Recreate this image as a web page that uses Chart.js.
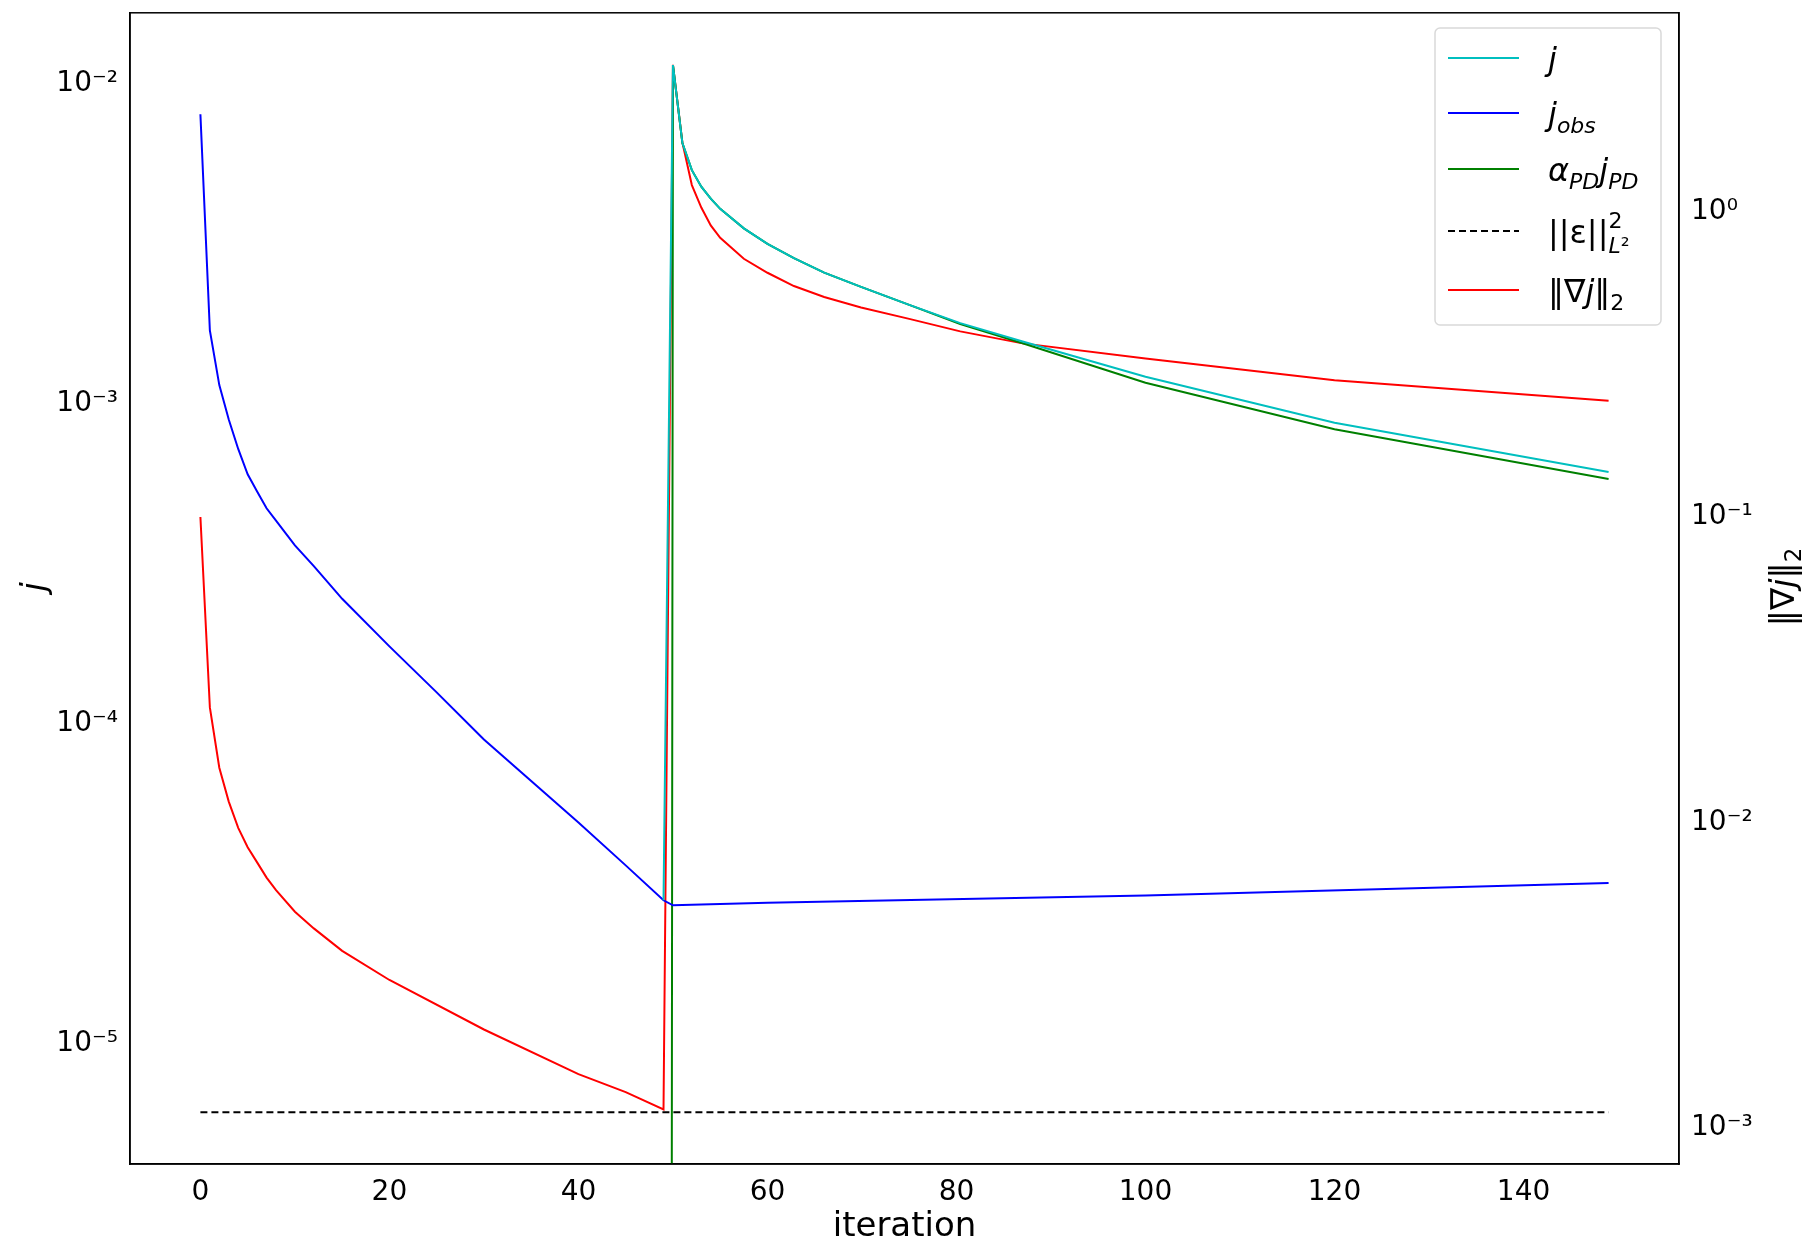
<!DOCTYPE html>
<html><head><meta charset="utf-8">
<script src="https://cdn.jsdelivr.net/npm/chart.js@4/dist/chart.umd.min.js"></script>
<style>html,body{margin:0;padding:0;background:#fff;overflow:hidden}canvas{display:block;margin-top:-10px}</style>
</head><body>
<canvas id="c" width="1807" height="1262" style="width:1807px;height:1262px"></canvas>
<script>
const jobsX = [0,1,2,3,4,5,6,7,8,10,12,15,20,25,30,35,40,45,49,50,60,100,149];
const jobsY = [8e-3,1.69e-3,1.14e-3,8.9e-4,7.2e-4,6e-4,5.3e-4,4.7e-4,4.3e-4,3.6e-4,3.1e-4,2.45e-4,1.74e-4,1.25e-4,8.9e-5,6.6e-5,4.9e-5,3.6e-5,2.8e-5,2.7e-5,2.75e-5,2.9e-5,3.17e-5];
const jX = [49,50,51,52,53,54,55,57.5,60,62.8,66,69.9,75,80.4,87,100,120,149];
const jY = [2.8e-5,1.14e-2,6.5e-3,5.35e-3,4.75e-3,4.36e-3,4.05e-3,3.52e-3,3.15e-3,2.84e-3,2.56e-3,2.31e-3,2.03e-3,1.78e-3,1.56e-3,1.21e-3,8.7e-4,6.1e-4];
const pdX = [49,50,51,52,53,54,55,57.5,60,62.8,66,69.9,75,80.4,87,100,120,149];
const pdY = [1e-30,1.14e-2,6.5e-3,5.35e-3,4.75e-3,4.36e-3,4.05e-3,3.52e-3,3.15e-3,2.84e-3,2.56e-3,2.31e-3,2.03e-3,1.77e-3,1.54e-3,1.16e-3,8.3e-4,5.8e-4];
const epsX = [0,149];
const epsY = [6.1e-6,6.1e-6];
const gradX = [0,1,2,3,4,5,6,7,8,10,12,15,20,30,40,45,49,50,51,52,53,54,55,57.5,60,62.8,66,69.9,75,80.4,87,100,120,149];
const gradY = [0.1,0.0238,0.0151,0.0117,0.0096,0.0083,0.0074,0.0066,0.0060,0.0051,0.0045,0.0038,0.00305,0.0021,0.0015,0.00131,0.00115,3.02,1.68,1.22,1.03,0.90,0.82,0.70,0.63,0.57,0.525,0.485,0.445,0.405,0.37,0.33,0.28,0.24];
const xTicks = [0,20,40,60,80,100,120,140];
const leftDecades = [-5,-4,-3,-2];
const rightDecades = [-3,-2,-1,0];

const OY = 10;
const pts = (xs, ys) => xs.map((x,i)=>({x, y: ys[i]}));
const sup = {'-':'⁻','0':'⁰','1':'¹','2':'²','3':'³','4':'⁴','5':'⁵'};
const decLabel = e => '10' + String(e).split('').map(ch=>sup[ch]).join('');

function logTicks(decs, minor, min, max){
  const t=[];
  const lo=Math.floor(Math.log10(min)), hi=Math.ceil(Math.log10(max));
  for(let e=lo;e<=hi;e++){
    for(let m=1;m<10;m++){
      const v=m*Math.pow(10,e);
      if(v<min||v>max) continue;
      if(m===1 && decs.includes(e)) t.push({value:v, major:true, label:decLabel(e)});
      else if(minor) t.push({value:v, label:''});
    }
  }
  return t;
}

const ds = (label, xs, ys, color, axis, extra={}) => Object.assign({
  label, data: pts(xs,ys), borderColor: color, backgroundColor: color,
  borderWidth: 2, pointRadius: 0, tension:0, yAxisID: axis, fill:false
}, extra);

const legendItems = [
  {color:'#00bfbf', dash:[], parts:[['j','i',1]]},
  {color:'#0000ff', dash:[], parts:[['j','i',1],['obs','i',0.7,'sub']]},
  {color:'#008000', dash:[], parts:[['α','i',1],['PD','i',0.7,'sub'],['j','i',1],['PD','i',0.7,'sub']]},
  {color:'#000000', dash:[7,4], parts:[['||ε||','n',1],['2','n',0.7,'sup'],['L','i',0.7,'sub2'],['²','n',0.7,'sub2']]},
  {color:'#ff0000', dash:[], parts:[['‖∇','n',1],['j','i',1],['‖','n',1],['2','n',0.7,'sub']]},
];

const legendPlugin = {
  id:'mlegend',
  afterDraw(chart){
    const c = chart.ctx;
    c.save();
    c.translate(0,OY);
    const bx=1435, by=28, bw=226, bh=297;
    c.fillStyle='rgba(255,255,255,0.8)';
    c.strokeStyle='#d9d9d9'; c.lineWidth=1.5;
    c.beginPath(); c.roundRect(bx,by,bw,bh,5); c.fill(); c.stroke();
    const ys=[58,113,169,231,290];
    legendItems.forEach((it,k)=>{
      const y=ys[k];
      c.strokeStyle=it.color; c.lineWidth=2; c.setLineDash(it.dash);
      c.beginPath(); c.moveTo(1448,y); c.lineTo(1519,y); c.stroke(); c.setLineDash([]);
      let x=1548;
      c.fillStyle='#000'; c.textBaseline='alphabetic';
      it.parts.forEach(([t,st,sc,pos])=>{
        const fs=Math.round(32*sc);
        c.font=(st==='i'?'italic ':'')+fs+'px "DejaVu Sans"';
        let yy=y+12;
        if(pos==='sub') yy+=8;
        if(pos==='sup') yy-=15;
        if(pos==='sub2') yy+=10;
        c.fillText(t,x,yy);
        if(pos!=='sup') x+=c.measureText(t).width;
      });
    });
    c.fillStyle='#000';
    c.save(); c.translate(45,587); c.rotate(-Math.PI/2);
    c.font='italic 33px "DejaVu Sans"'; c.textAlign='center'; c.fillText('j',0,0); c.restore();
    c.save(); c.translate(1794,587); c.rotate(-Math.PI/2);
    const p1='‖∇', p2='j', p3='‖';
    c.font='33px "DejaVu Sans"'; const w1=c.measureText(p1).width, w3=c.measureText(p3).width;
    c.font='italic 33px "DejaVu Sans"'; const w2=c.measureText(p2).width;
    c.font='23px "DejaVu Sans"'; const w4=c.measureText('2').width;
    let x0=-(w1+w2+w3+w4)/2; c.textAlign='left';
    c.font='33px "DejaVu Sans"'; c.fillText(p1,x0,0); x0+=w1;
    c.font='italic 33px "DejaVu Sans"'; c.fillText(p2,x0,0); x0+=w2;
    c.font='33px "DejaVu Sans"'; c.fillText(p3,x0,0); x0+=w3;
    c.font='23px "DejaVu Sans"'; c.fillText('2',x0,7);
    c.restore();
    c.restore();
  }
};

const tickFont = {size:28, family:'DejaVu Sans'};
const chart = new Chart(document.getElementById('c'), {
  type:'line',
  data:{datasets:[
    ds('j', jX, jY, '#00bfbf', 'yL'),
    ds('jobs', jobsX, jobsY, '#0000ff', 'yL'),
    ds('aPD jPD', pdX, pdY, '#008000', 'yL'),
    ds('eps', epsX, epsY, '#000000', 'yL', {borderDash:[7,4]}),
    ds('grad', gradX, gradY, '#ff0000', 'yR'),
  ]},
  options:{
    responsive:false, animation:false, devicePixelRatio:1,
    layout:{padding:{top:0,right:0,left:0,bottom:0}},
    plugins:{legend:{display:false}, tooltip:{enabled:false}},
    scales:{
      x:{type:'linear', min:-7.45, max:156.45,
        afterBuildTicks:s=>{s.ticks=xTicks.map(v=>({value:v}));},
        afterFit:s=>{s.height=88;},
        grid:{display:false, drawTicks:true, tickLength:8, tickColor:'#000'},
        border:{color:'#000', width:1.5},
        ticks:{color:'#000', font:tickFont, padding:4},
        title:{display:true, text:'iteration', color:'#000', font:{size:34, family:'DejaVu Sans'}, padding:{top:0}}
      },
      yL:{type:'logarithmic', position:'left', min:4.2e-6, max:1.66e-2,
        afterBuildTicks:s=>{s.ticks=logTicks(leftDecades,true,s.min,s.max);},
        afterFit:s=>{s.width=130;},
        grid:{display:false, drawTicks:true, tickLength:6, tickColor:'#000'},
        border:{color:'#000', width:1.5},
        ticks:{color:'#000', font:tickFont, autoSkip:false, callback:(v,i,t)=>t[i].label, padding:6}
      },
      yR:{type:'logarithmic', position:'right', min:7.62e-4, max:4.47,
        afterBuildTicks:s=>{s.ticks=logTicks(rightDecades,true,s.min,s.max);},
        afterFit:s=>{s.width=128;},
        grid:{display:false, drawTicks:true, tickLength:6, tickColor:'#000'},
        border:{color:'#000', width:1.5},
        ticks:{color:'#000', font:tickFont, autoSkip:false, callback:(v,i,t)=>t[i].label, padding:6}
      }
    }
  },
  plugins:[legendPlugin, {id:'frame', afterDraw(ch){const a=ch.chartArea,c=ch.ctx;c.save();c.strokeStyle='#000';c.lineWidth=1.5;c.strokeRect(a.left,a.top,a.right-a.left,a.bottom-a.top);c.restore();}}]
});
</script>
</body></html>
